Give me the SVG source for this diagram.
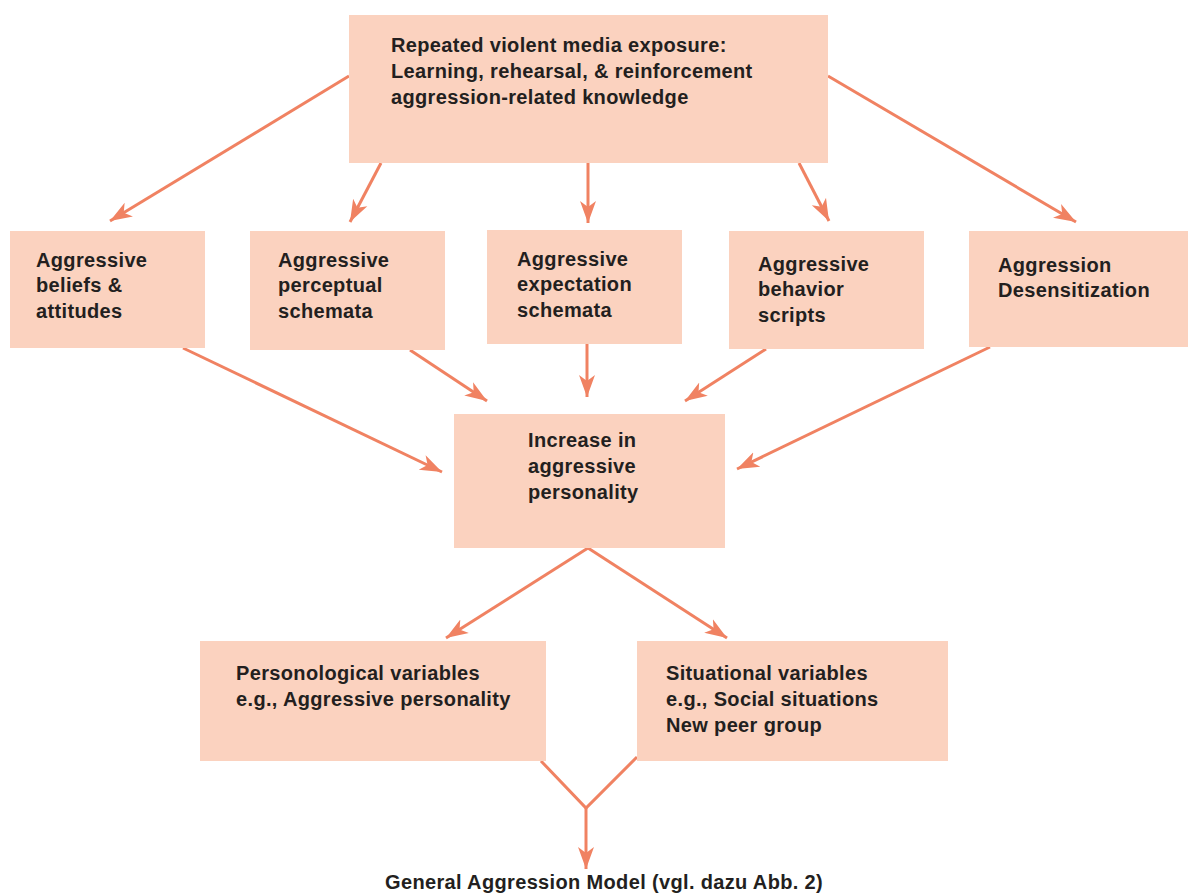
<svg xmlns="http://www.w3.org/2000/svg" width="1188" height="893" viewBox="0 0 1188 893">
  <style>
    .box { fill: #fbd2bf; }
    .lbl { font-family: "Liberation Sans", Arial, sans-serif; font-weight: bold; font-size: 20px; letter-spacing: 0.35px; fill: #231f20; }
    .conn { stroke: #f08262; stroke-width: 3; fill: none; }
  </style>
  <defs>
    <marker id="arrow" markerUnits="userSpaceOnUse" markerWidth="24" markerHeight="18" viewBox="-22 -9 24 18" refX="0" refY="0" orient="auto">
      <path d="M0,0 L-22,-8 L-16,0 L-22,8 Z" fill="#f08262"/>
    </marker>
  </defs>
  <rect width="1188" height="893" fill="#ffffff"/>

  <!-- connectors -->
  <g id="connectors" class="conn">
    <line x1="349" y1="76" x2="110" y2="221" marker-end="url(#arrow)"/>
    <line x1="381" y1="163" x2="350" y2="222" marker-end="url(#arrow)"/>
    <line x1="588" y1="163" x2="588" y2="223" marker-end="url(#arrow)"/>
    <line x1="799" y1="163" x2="829" y2="221" marker-end="url(#arrow)"/>
    <line x1="828" y1="76" x2="1076" y2="222" marker-end="url(#arrow)"/>

    <line x1="183" y1="348" x2="442" y2="472" marker-end="url(#arrow)"/>
    <line x1="410" y1="350" x2="487" y2="401" marker-end="url(#arrow)"/>
    <line x1="587" y1="344" x2="587" y2="397" marker-end="url(#arrow)"/>
    <line x1="766" y1="349" x2="685" y2="401" marker-end="url(#arrow)"/>
    <line x1="990" y1="347" x2="737" y2="469" marker-end="url(#arrow)"/>

    <line x1="588" y1="548" x2="446" y2="638" marker-end="url(#arrow)"/>
    <line x1="588" y1="548" x2="727" y2="638" marker-end="url(#arrow)"/>

    <polyline points="541,761 586,808 637,757"/>
    <line x1="586" y1="808" x2="586" y2="869" marker-end="url(#arrow)"/>
  </g>

  <g id="node-exposure">
    <rect class="box" x="349" y="15" width="479" height="148"/>
    <text class="lbl" x="391" y="52">Repeated violent media exposure:</text>
    <text class="lbl" x="391" y="78">Learning, rehearsal, &amp; reinforcement</text>
    <text class="lbl" x="391" y="104">aggression-related knowledge</text>
  </g>

  <g id="node-beliefs">
    <rect class="box" x="10" y="231" width="195" height="117"/>
    <text class="lbl" x="36" y="267">Aggressive</text>
    <text class="lbl" x="36" y="292">beliefs &amp;</text>
    <text class="lbl" x="36" y="318">attitudes</text>
  </g>

  <g id="node-perceptual">
    <rect class="box" x="250" y="231" width="195" height="119"/>
    <text class="lbl" x="278" y="267">Aggressive</text>
    <text class="lbl" x="278" y="292">perceptual</text>
    <text class="lbl" x="278" y="318">schemata</text>
  </g>

  <g id="node-expectation">
    <rect class="box" x="487" y="230" width="195" height="114"/>
    <text class="lbl" x="517" y="266">Aggressive</text>
    <text class="lbl" x="517" y="291">expectation</text>
    <text class="lbl" x="517" y="317">schemata</text>
  </g>

  <g id="node-scripts">
    <rect class="box" x="729" y="231" width="195" height="118"/>
    <text class="lbl" x="758" y="271">Aggressive</text>
    <text class="lbl" x="758" y="296">behavior</text>
    <text class="lbl" x="758" y="322">scripts</text>
  </g>

  <g id="node-desensitization">
    <rect class="box" x="969" y="231" width="219" height="116"/>
    <text class="lbl" x="998" y="272">Aggression</text>
    <text class="lbl" x="998" y="297">Desensitization</text>
  </g>

  <g id="node-personality">
    <rect class="box" x="454" y="414" width="271" height="134"/>
    <text class="lbl" x="528" y="447">Increase in</text>
    <text class="lbl" x="528" y="473">aggressive</text>
    <text class="lbl" x="528" y="499">personality</text>
  </g>

  <g id="node-personological">
    <rect class="box" x="200" y="641" width="346" height="120"/>
    <text class="lbl" x="236" y="680">Personological variables</text>
    <text class="lbl" x="236" y="706">e.g., Aggressive personality</text>
  </g>

  <g id="node-situational">
    <rect class="box" x="637" y="641" width="311" height="120"/>
    <text class="lbl" x="666" y="680">Situational variables</text>
    <text class="lbl" x="666" y="706">e.g., Social situations</text>
    <text class="lbl" x="666" y="732">New peer group</text>
  </g>

  <g id="caption">
    <text class="lbl" x="385" y="889">General Aggression Model (vgl. dazu Abb. 2)</text>
  </g>
</svg>
